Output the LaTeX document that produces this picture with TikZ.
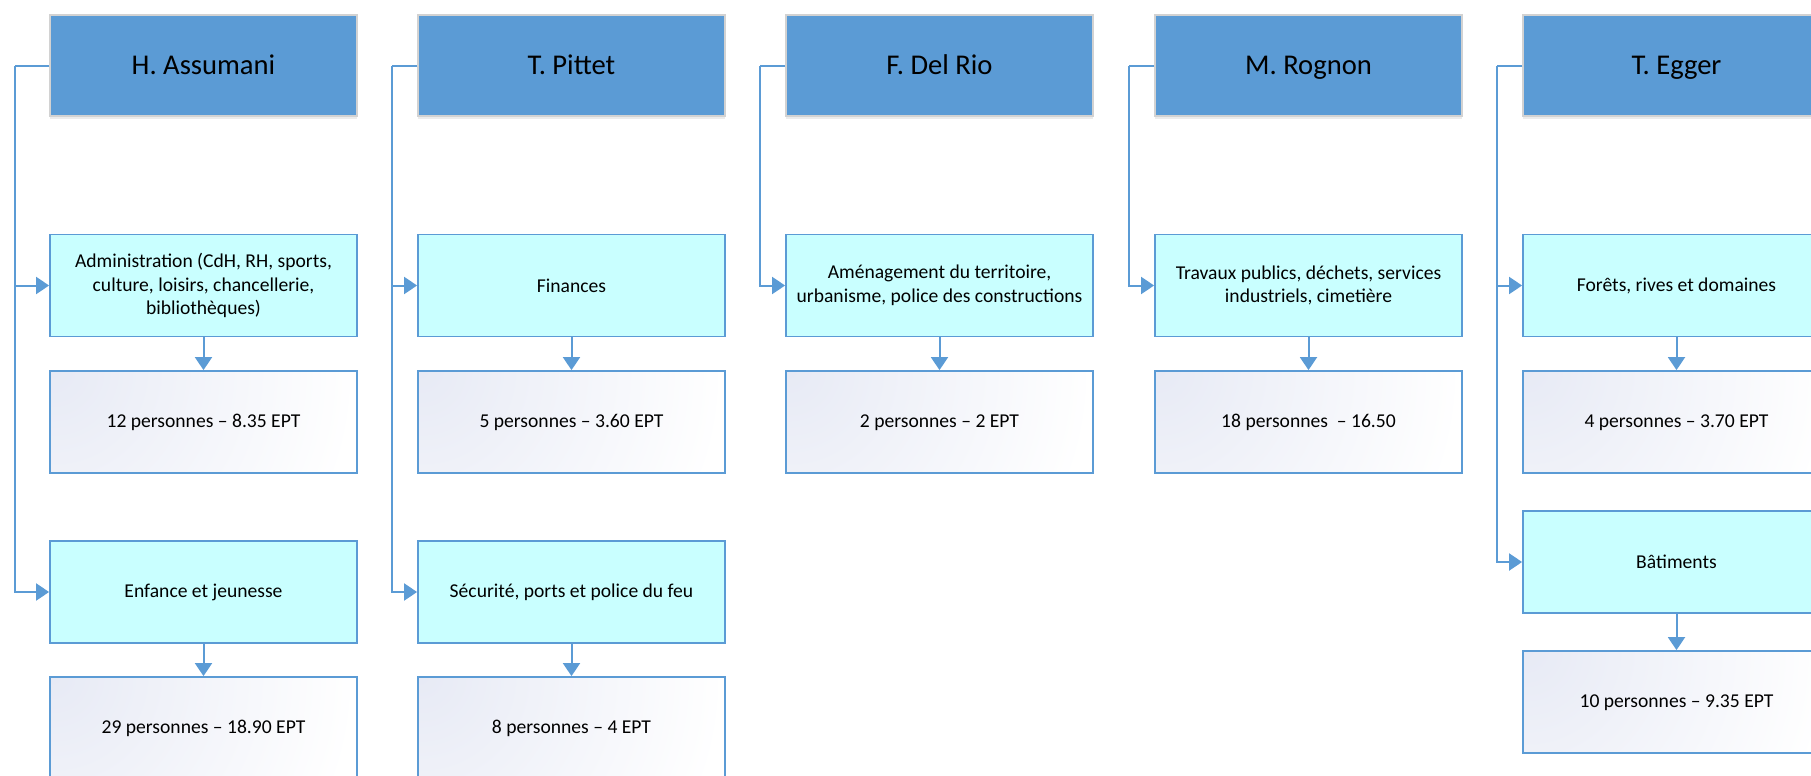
\documentclass[tikz,border=0pt]{standalone}
\usepackage{fontspec}
\setmainfont{Carlito}
\usepackage{tikz}
\usetikzlibrary{arrows.meta,shadows,calc}

\definecolor{headblue}{HTML}{5B9BD5}
\definecolor{unitcyan}{HTML}{C9FFFF}
\definecolor{staffgray}{HTML}{E7EAF5}

\begin{document}
\begin{tikzpicture}[x=0.5pt,y=-0.5pt,
		head/.style={draw=gray!35, line width=0.6pt, fill=headblue, minimum width=153.5pt, minimum height=50.5pt,
			text height=9pt, text depth=0pt, font=\fontsize{14.3}{17}\selectfont,
			drop shadow={shadow xshift=0pt, shadow yshift=-1.5pt, opacity=0.15}},
		unit/.style={draw=headblue, line width=0.9pt, fill=unitcyan, minimum width=153.5pt, minimum height=51pt,
			align=center, font=\fontsize{9.8}{11.8}\selectfont},
		staff/.style={draw=headblue, line width=0.9pt, fill=white,
			path picture={\shade[inner color=staffgray, outer color=white] (path picture bounding box.north west) circle (150pt);},
			minimum width=153.5pt, minimum height=51pt, text height=1.6ex, text depth=0.4ex,
			font=\fontsize{9.8}{11.8}\selectfont},
		wire/.style={headblue, line width=1pt},
		feed/.style={wire, -{Triangle[width=8.5pt,length=6.5pt]}}
	]
		\path[use as bounding box, clip] (0,0) rectangle (1811,776);

		% >>> heads
		\node[head] (ass) at (203.5,65.5) {H. Assumani};
		\node[head] (pit) at (571.5,65.5) {T. Pittet};
		\node[head] (del) at (939.5,65.5) {F. Del Rio};
		\node[head] (rog) at (1308.5,65.5) {M. Rognon};
		\node[head] (egg) at (1676.5,65.5) {T. Egger};
		% <<< heads

		% >>> services
		\node[unit] (adm) at (203.5,285.5) {Administration (CdH, RH, sports,\\culture, loisirs, chancellerie,\\bibliothèques)};
		\node[unit] (enf) at (203.5,592) {Enfance et jeunesse};
		\node[unit] (fin) at (571.5,285.5) {Finances};
		\node[unit] (sec) at (571.5,592) {Sécurité, ports et police du feu};
		\node[unit] (ame) at (939.5,285.5) {Aménagement du territoire,\\urbanisme, police des constructions};
		\node[unit] (tra) at (1308.5,285.5) {Travaux publics, déchets, services\\industriels, cimetière};
		\node[unit] (for) at (1676.5,285.5) {Forêts, rives et domaines};
		\node[unit] (bat) at (1676.5,562) {Bâtiments};
		% <<< services

		% >>> staff
		\node[staff] (admn) at (203.5,422) {12 personnes – 8.35 EPT};
		\node[staff] (enfn) at (203.5,728) {29 personnes – 18.90 EPT};
		\node[staff] (finn) at (571.5,422) {5 personnes – 3.60 EPT};
		\node[staff] (secn) at (571.5,728) {8 personnes – 4 EPT};
		\node[staff] (amen) at (939.5,422) {2 personnes – 2 EPT};
		\node[staff] (tran) at (1308.5,422) {18 personnes~~– 16.50};
		\node[staff] (forn) at (1676.5,422) {4 personnes – 3.70 EPT};
		\node[staff] (batn) at (1676.5,702) {10 personnes – 9.35 EPT};
		% <<< staff

		% >>> head to service
		\coordinate (assb) at ($(ass.west)+(-34,0)$);
		\coordinate (pitb) at ($(pit.west)+(-25,0)$);
		\coordinate (delb) at ($(del.west)+(-25,0)$);
		\coordinate (rogb) at ($(rog.west)+(-25,0)$);
		\coordinate (eggb) at ($(egg.west)+(-25,0)$);

		\draw[wire] (ass.west) -- (assb);
		\draw[feed] (assb) |- (adm.west);
		\draw[feed] (assb) |- (enf.west);
		\draw[wire] (pit.west) -- (pitb);
		\draw[feed] (pitb) |- (fin.west);
		\draw[feed] (pitb) |- (sec.west);
		\draw[wire] (del.west) -- (delb);
		\draw[feed] (delb) |- (ame.west);
		\draw[wire] (rog.west) -- (rogb);
		\draw[feed] (rogb) |- (tra.west);
		\draw[wire] (egg.west) -- (eggb);
		\draw[feed] (eggb) |- (for.west);
		\draw[feed] (eggb) |- (bat.west);
		% <<< head to service

		% >>> service to staff
		\draw[feed] (adm) -- (admn);
		\draw[feed] (enf) -- (enfn);
		\draw[feed] (fin) -- (finn);
		\draw[feed] (sec) -- (secn);
		\draw[feed] (ame) -- (amen);
		\draw[feed] (tra) -- (tran);
		\draw[feed] (for) -- (forn);
		\draw[feed] (bat) -- (batn);
		% <<< service to staff
	\end{tikzpicture}
\end{document}
